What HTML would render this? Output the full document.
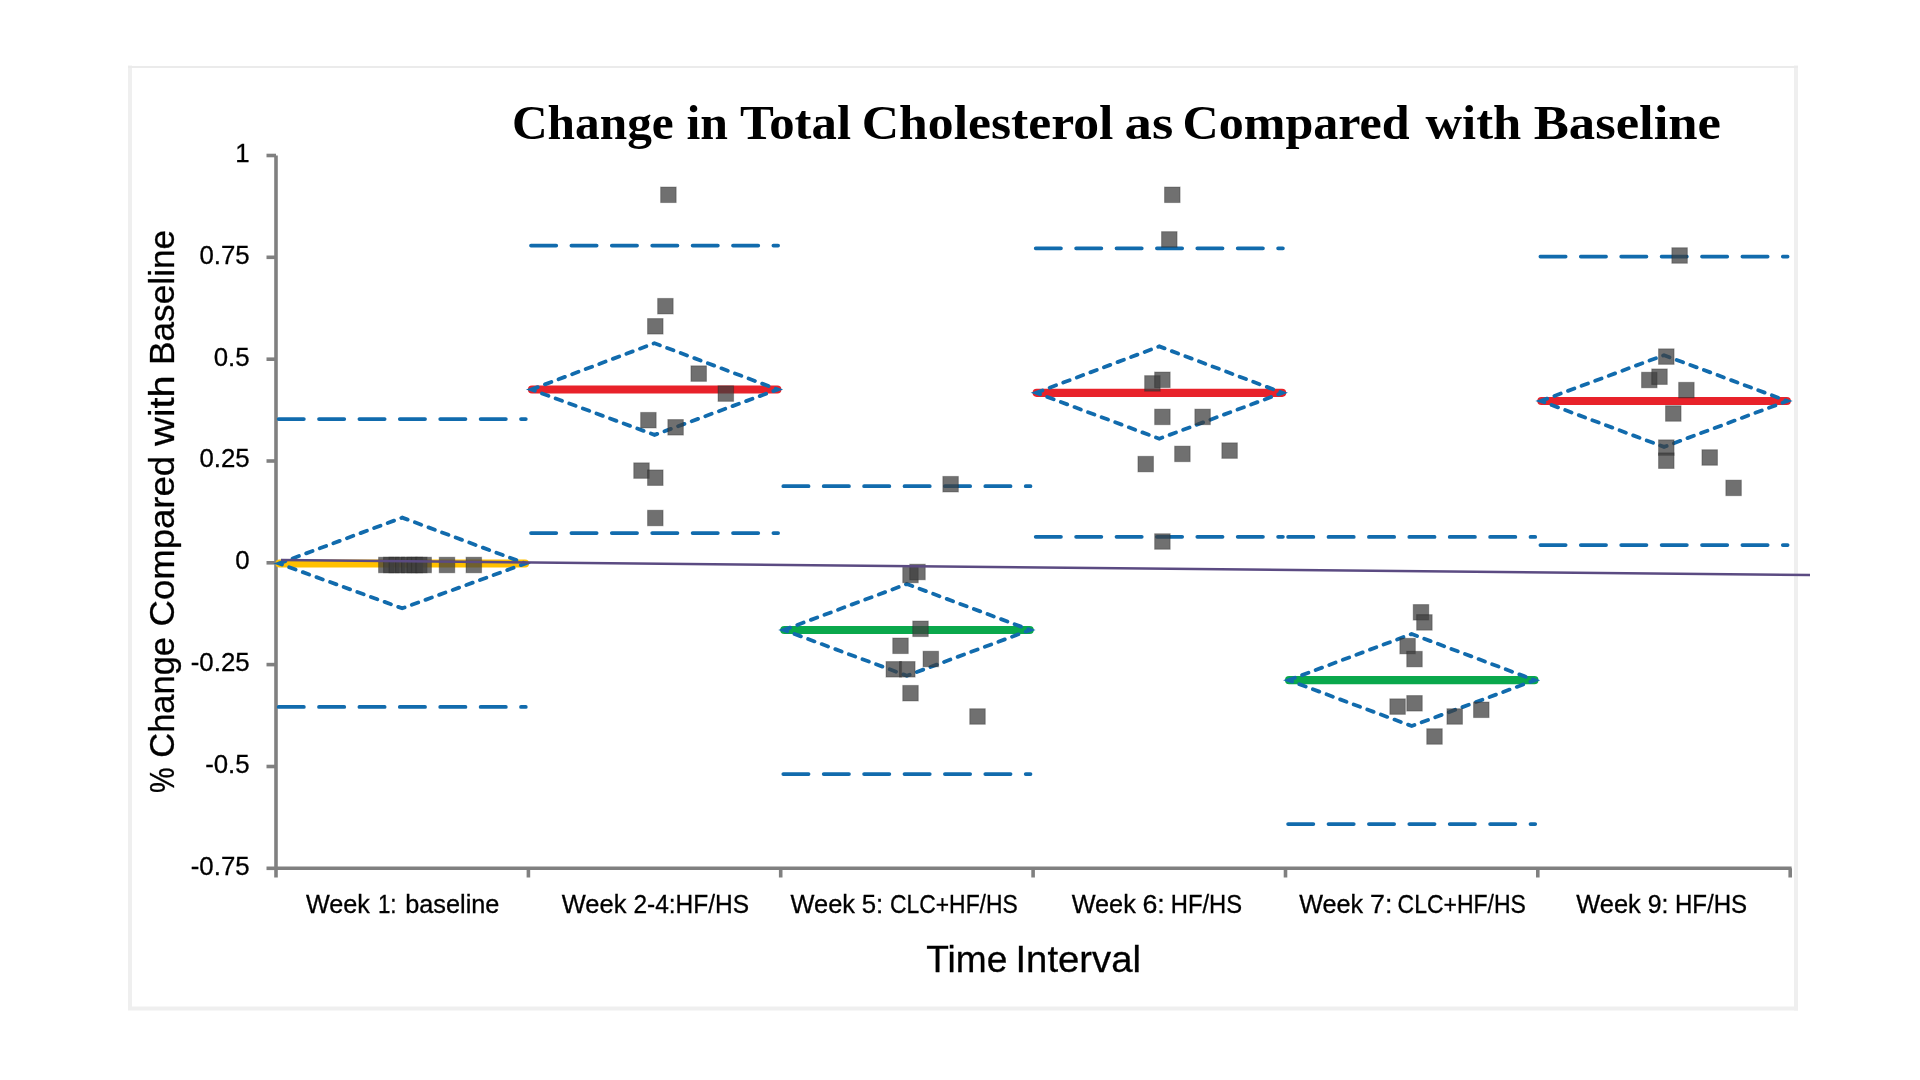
<!DOCTYPE html><html><head><meta charset="utf-8"><title>Change in Total Cholesterol</title>
<style>html,body{margin:0;padding:0;background:#fff;width:1920px;height:1080px;overflow:hidden}svg{display:block;will-change:transform}</style></head><body>
<svg width="1920" height="1080" viewBox="0 0 1920 1080">
<rect x="0" y="0" width="1920" height="1080" fill="#fff"/>
<rect x="128" y="65.5" width="4" height="944" fill="#efefef"/>
<rect x="1794" y="65.5" width="4" height="945" fill="#efefef"/>
<rect x="128" y="1006.5" width="1670" height="4" fill="#efefef"/>
<rect x="128" y="66" width="1670" height="2" fill="#ebebeb"/>
<text x="512.00" y="139.4" font-family="Liberation Serif, serif" font-weight="bold" font-size="49" fill="#000" textLength="161.70" lengthAdjust="spacingAndGlyphs">Change</text>
<text x="686.50" y="139.4" font-family="Liberation Serif, serif" font-weight="bold" font-size="49" fill="#000" textLength="41.50" lengthAdjust="spacingAndGlyphs">in</text>
<text x="740.00" y="139.4" font-family="Liberation Serif, serif" font-weight="bold" font-size="49" fill="#000" textLength="111.00" lengthAdjust="spacingAndGlyphs">Total</text>
<text x="861.80" y="139.4" font-family="Liberation Serif, serif" font-weight="bold" font-size="49" fill="#000" textLength="251.70" lengthAdjust="spacingAndGlyphs">Cholesterol</text>
<text x="1124.50" y="139.4" font-family="Liberation Serif, serif" font-weight="bold" font-size="49" fill="#000" textLength="48.70" lengthAdjust="spacingAndGlyphs">as</text>
<text x="1182.50" y="139.4" font-family="Liberation Serif, serif" font-weight="bold" font-size="49" fill="#000" textLength="227.20" lengthAdjust="spacingAndGlyphs">Compared</text>
<text x="1425.50" y="139.4" font-family="Liberation Serif, serif" font-weight="bold" font-size="49" fill="#000" textLength="95.70" lengthAdjust="spacingAndGlyphs">with</text>
<text x="1533.70" y="139.4" font-family="Liberation Serif, serif" font-weight="bold" font-size="49" fill="#000" textLength="187.30" lengthAdjust="spacingAndGlyphs">Baseline</text>
<g stroke="#808080" stroke-width="3.6" fill="none">
<line x1="276" y1="155.5" x2="276" y2="868.3"/>
<line x1="276" y1="868.3" x2="1791.6" y2="868.3"/>
<line x1="266.5" y1="155.5" x2="276" y2="155.5"/>
<line x1="266.5" y1="257.3" x2="276" y2="257.3"/>
<line x1="266.5" y1="359.2" x2="276" y2="359.2"/>
<line x1="266.5" y1="461.0" x2="276" y2="461.0"/>
<line x1="266.5" y1="562.8" x2="276" y2="562.8"/>
<line x1="266.5" y1="664.6" x2="276" y2="664.6"/>
<line x1="266.5" y1="766.5" x2="276" y2="766.5"/>
<line x1="266.5" y1="868.3" x2="276" y2="868.3"/>
<line x1="276.0" y1="868.3" x2="276.0" y2="877.5"/>
<line x1="528.4" y1="868.3" x2="528.4" y2="877.5"/>
<line x1="780.7" y1="868.3" x2="780.7" y2="877.5"/>
<line x1="1033.1" y1="868.3" x2="1033.1" y2="877.5"/>
<line x1="1285.5" y1="868.3" x2="1285.5" y2="877.5"/>
<line x1="1537.8" y1="868.3" x2="1537.8" y2="877.5"/>
<line x1="1790.2" y1="868.3" x2="1790.2" y2="877.5"/>
</g>
<g font-family="Liberation Sans, sans-serif" font-size="25.8" fill="#000" stroke="#000" stroke-width="0.3" text-anchor="end">
<text x="249.6" y="161.9">1</text>
<text x="249.6" y="263.7">0.75</text>
<text x="249.6" y="365.6">0.5</text>
<text x="249.6" y="467.4">0.25</text>
<text x="249.6" y="569.2">0</text>
<text x="249.6" y="671.0">-0.25</text>
<text x="249.6" y="772.9">-0.5</text>
<text x="249.6" y="874.7">-0.75</text>
</g>
<g font-family="Liberation Sans, sans-serif" font-size="25.5" fill="#000" stroke="#000" stroke-width="0.3">
<text x="305.90" y="913.2" textLength="64.00" lengthAdjust="spacingAndGlyphs">Week</text>
<text x="377.90" y="913.2" textLength="18.70" lengthAdjust="spacingAndGlyphs">1:</text>
<text x="405.20" y="913.2" textLength="94.20" lengthAdjust="spacingAndGlyphs">baseline</text>
<text x="561.80" y="913.2" textLength="64.60" lengthAdjust="spacingAndGlyphs">Week</text>
<text x="633.40" y="913.2" textLength="115.60" lengthAdjust="spacingAndGlyphs">2-4:HF/HS</text>
<text x="790.60" y="913.2" textLength="64.40" lengthAdjust="spacingAndGlyphs">Week</text>
<text x="861.70" y="913.2" textLength="21.55" lengthAdjust="spacingAndGlyphs">5:</text>
<text x="890.05" y="913.2" textLength="127.65" lengthAdjust="spacingAndGlyphs">CLC+HF/HS</text>
<text x="1071.70" y="913.2" textLength="64.10" lengthAdjust="spacingAndGlyphs">Week</text>
<text x="1142.40" y="913.2" textLength="22.30" lengthAdjust="spacingAndGlyphs">6:</text>
<text x="1170.80" y="913.2" textLength="71.30" lengthAdjust="spacingAndGlyphs">HF/HS</text>
<text x="1299.15" y="913.2" textLength="63.95" lengthAdjust="spacingAndGlyphs">Week</text>
<text x="1370.05" y="913.2" textLength="22.35" lengthAdjust="spacingAndGlyphs">7:</text>
<text x="1397.55" y="913.2" textLength="128.25" lengthAdjust="spacingAndGlyphs">CLC+HF/HS</text>
<text x="1576.30" y="913.2" textLength="64.50" lengthAdjust="spacingAndGlyphs">Week</text>
<text x="1647.70" y="913.2" textLength="20.70" lengthAdjust="spacingAndGlyphs">9:</text>
<text x="1674.90" y="913.2" textLength="72.20" lengthAdjust="spacingAndGlyphs">HF/HS</text>
</g>
<g font-family="Liberation Sans, sans-serif" font-size="36.5" fill="#000" stroke="#000" stroke-width="0.3">
<text x="926.30" y="971.9" textLength="81.00" lengthAdjust="spacingAndGlyphs">Time</text>
<text x="1015.50" y="971.9" textLength="125.40" lengthAdjust="spacingAndGlyphs">Interval</text>
</g>
<g transform="translate(174.4,792) rotate(-90)" font-family="Liberation Sans, sans-serif" font-size="35.5" fill="#000" stroke="#000" stroke-width="0.3">
<text x="-1.00" y="0" textLength="25.50" lengthAdjust="spacingAndGlyphs">%</text>
<text x="34.30" y="0" textLength="120.70" lengthAdjust="spacingAndGlyphs">Change</text>
<text x="165.50" y="0" textLength="170.70" lengthAdjust="spacingAndGlyphs">Compared</text>
<text x="346.00" y="0" textLength="70.70" lengthAdjust="spacingAndGlyphs">with</text>
<text x="427.00" y="0" textLength="135.20" lengthAdjust="spacingAndGlyphs">Baseline</text>
</g>
<line x1="279.6" y1="563.5" x2="525.0" y2="563.5" stroke="#FFC000" stroke-width="8.2" stroke-linecap="round"/>
<line x1="532.0" y1="389.5" x2="777.3" y2="389.5" stroke="#e8222a" stroke-width="8.2" stroke-linecap="round"/>
<line x1="784.3" y1="630.0" x2="1029.7" y2="630.0" stroke="#0aa84c" stroke-width="8.2" stroke-linecap="round"/>
<line x1="1036.7" y1="392.8" x2="1282.1" y2="392.8" stroke="#e8222a" stroke-width="8.2" stroke-linecap="round"/>
<line x1="1289.1" y1="680.2" x2="1534.4" y2="680.2" stroke="#0aa84c" stroke-width="8.2" stroke-linecap="round"/>
<line x1="1541.4" y1="401.0" x2="1786.8" y2="401.0" stroke="#e8222a" stroke-width="8.2" stroke-linecap="round"/>
<path d="M279.0,563.5 L402.2,517.6 L525.4,563.5 L402.2,608.3 Z" fill="none" stroke="#116bad" stroke-width="3.8" stroke-dasharray="6.8 7.7" stroke-linecap="round"/>
<path d="M531.4,389.5 L654.5,343.2 L777.7,389.5 L654.5,434.9 Z" fill="none" stroke="#116bad" stroke-width="3.8" stroke-dasharray="6.8 7.7" stroke-linecap="round"/>
<path d="M783.7,630.0 L906.9,584.0 L1030.1,630.0 L906.9,675.7 Z" fill="none" stroke="#116bad" stroke-width="3.8" stroke-dasharray="6.8 7.7" stroke-linecap="round"/>
<path d="M1036.1,392.8 L1159.3,346.4 L1282.5,392.8 L1159.3,438.7 Z" fill="none" stroke="#116bad" stroke-width="3.8" stroke-dasharray="6.8 7.7" stroke-linecap="round"/>
<path d="M1288.5,680.2 L1411.7,634.0 L1534.8,680.2 L1411.7,726.0 Z" fill="none" stroke="#116bad" stroke-width="3.8" stroke-dasharray="6.8 7.7" stroke-linecap="round"/>
<path d="M1540.8,401.0 L1664.0,355.2 L1787.2,401.0 L1664.0,446.9 Z" fill="none" stroke="#116bad" stroke-width="3.8" stroke-dasharray="6.8 7.7" stroke-linecap="round"/>
<line x1="278.6" y1="419.0" x2="525.8" y2="419.0" stroke="#116bad" stroke-width="3.75" stroke-dasharray="25.25 15.15" stroke-linecap="round"/>
<line x1="278.6" y1="706.9" x2="525.8" y2="706.9" stroke="#116bad" stroke-width="3.75" stroke-dasharray="25.25 15.15" stroke-linecap="round"/>
<line x1="531.0" y1="245.6" x2="778.1" y2="245.6" stroke="#116bad" stroke-width="3.75" stroke-dasharray="25.25 15.15" stroke-linecap="round"/>
<line x1="531.0" y1="533.0" x2="778.1" y2="533.0" stroke="#116bad" stroke-width="3.75" stroke-dasharray="25.25 15.15" stroke-linecap="round"/>
<line x1="783.3" y1="486.2" x2="1030.5" y2="486.2" stroke="#116bad" stroke-width="3.75" stroke-dasharray="25.25 15.15" stroke-linecap="round"/>
<line x1="783.3" y1="774.0" x2="1030.5" y2="774.0" stroke="#116bad" stroke-width="3.75" stroke-dasharray="25.25 15.15" stroke-linecap="round"/>
<line x1="1035.7" y1="248.3" x2="1282.9" y2="248.3" stroke="#116bad" stroke-width="3.75" stroke-dasharray="25.25 15.15" stroke-linecap="round"/>
<line x1="1035.7" y1="536.8" x2="1282.9" y2="536.8" stroke="#116bad" stroke-width="3.75" stroke-dasharray="25.25 15.15" stroke-linecap="round"/>
<line x1="1288.1" y1="536.9" x2="1535.2" y2="536.9" stroke="#116bad" stroke-width="3.75" stroke-dasharray="25.25 15.15" stroke-linecap="round"/>
<line x1="1288.1" y1="824.0" x2="1535.2" y2="824.0" stroke="#116bad" stroke-width="3.75" stroke-dasharray="25.25 15.15" stroke-linecap="round"/>
<line x1="1540.4" y1="256.6" x2="1787.6" y2="256.6" stroke="#116bad" stroke-width="3.75" stroke-dasharray="25.25 15.15" stroke-linecap="round"/>
<line x1="1540.4" y1="545.0" x2="1787.6" y2="545.0" stroke="#116bad" stroke-width="3.75" stroke-dasharray="25.25 15.15" stroke-linecap="round"/>
<g fill="rgba(62,62,62,0.74)" stroke="rgba(25,25,25,0.3)" stroke-width="1.1">
<rect x="378.55" y="557.25" width="15.50" height="15.50"/>
<rect x="383.55" y="557.25" width="15.50" height="15.50"/>
<rect x="389.05" y="557.25" width="15.50" height="15.50"/>
<rect x="395.55" y="557.25" width="15.50" height="15.50"/>
<rect x="401.55" y="557.25" width="15.50" height="15.50"/>
<rect x="407.05" y="557.25" width="15.50" height="15.50"/>
<rect x="411.55" y="557.25" width="15.50" height="15.50"/>
<rect x="415.95" y="557.25" width="15.50" height="15.50"/>
<rect x="439.25" y="557.25" width="15.50" height="15.50"/>
<rect x="466.05" y="557.25" width="15.50" height="15.50"/>
<rect x="660.65" y="187.05" width="15.50" height="15.50"/>
<rect x="657.65" y="298.45" width="15.50" height="15.50"/>
<rect x="647.55" y="318.55" width="15.50" height="15.50"/>
<rect x="690.95" y="365.85" width="15.50" height="15.50"/>
<rect x="718.05" y="385.85" width="15.50" height="15.50"/>
<rect x="640.65" y="412.45" width="15.50" height="15.50"/>
<rect x="667.85" y="419.55" width="15.50" height="15.50"/>
<rect x="633.75" y="462.85" width="15.50" height="15.50"/>
<rect x="647.55" y="469.95" width="15.50" height="15.50"/>
<rect x="647.55" y="510.25" width="15.50" height="15.50"/>
<rect x="942.85" y="476.45" width="15.50" height="15.50"/>
<rect x="902.75" y="567.25" width="15.50" height="15.50"/>
<rect x="909.75" y="564.25" width="15.50" height="15.50"/>
<rect x="912.75" y="621.05" width="15.50" height="15.50"/>
<rect x="892.75" y="638.05" width="15.50" height="15.50"/>
<rect x="923.05" y="651.25" width="15.50" height="15.50"/>
<rect x="886.05" y="661.55" width="15.50" height="15.50"/>
<rect x="899.55" y="661.55" width="15.50" height="15.50"/>
<rect x="902.75" y="685.45" width="15.50" height="15.50"/>
<rect x="969.75" y="708.75" width="15.50" height="15.50"/>
<rect x="1164.55" y="187.05" width="15.50" height="15.50"/>
<rect x="1161.55" y="231.65" width="15.50" height="15.50"/>
<rect x="1144.65" y="375.65" width="15.50" height="15.50"/>
<rect x="1154.65" y="372.05" width="15.50" height="15.50"/>
<rect x="1154.65" y="409.15" width="15.50" height="15.50"/>
<rect x="1194.85" y="409.15" width="15.50" height="15.50"/>
<rect x="1174.65" y="446.15" width="15.50" height="15.50"/>
<rect x="1221.85" y="442.85" width="15.50" height="15.50"/>
<rect x="1137.95" y="456.35" width="15.50" height="15.50"/>
<rect x="1154.65" y="533.75" width="15.50" height="15.50"/>
<rect x="1413.25" y="604.55" width="15.50" height="15.50"/>
<rect x="1416.65" y="614.65" width="15.50" height="15.50"/>
<rect x="1399.85" y="638.35" width="15.50" height="15.50"/>
<rect x="1406.75" y="651.35" width="15.50" height="15.50"/>
<rect x="1389.85" y="698.85" width="15.50" height="15.50"/>
<rect x="1406.75" y="695.55" width="15.50" height="15.50"/>
<rect x="1446.95" y="708.75" width="15.50" height="15.50"/>
<rect x="1473.55" y="702.05" width="15.50" height="15.50"/>
<rect x="1426.75" y="728.75" width="15.50" height="15.50"/>
<rect x="1671.85" y="247.75" width="15.50" height="15.50"/>
<rect x="1658.55" y="348.85" width="15.50" height="15.50"/>
<rect x="1641.55" y="372.25" width="15.50" height="15.50"/>
<rect x="1651.75" y="368.95" width="15.50" height="15.50"/>
<rect x="1678.65" y="382.35" width="15.50" height="15.50"/>
<rect x="1665.55" y="405.75" width="15.50" height="15.50"/>
<rect x="1658.55" y="439.85" width="15.50" height="15.50"/>
<rect x="1658.55" y="452.95" width="15.50" height="15.50"/>
<rect x="1701.95" y="449.75" width="15.50" height="15.50"/>
<rect x="1725.85" y="480.15" width="15.50" height="15.50"/>
</g>
<line x1="281" y1="560" x2="1810" y2="575" stroke="#5b4b82" stroke-width="2.6"/>
</svg></body></html>
